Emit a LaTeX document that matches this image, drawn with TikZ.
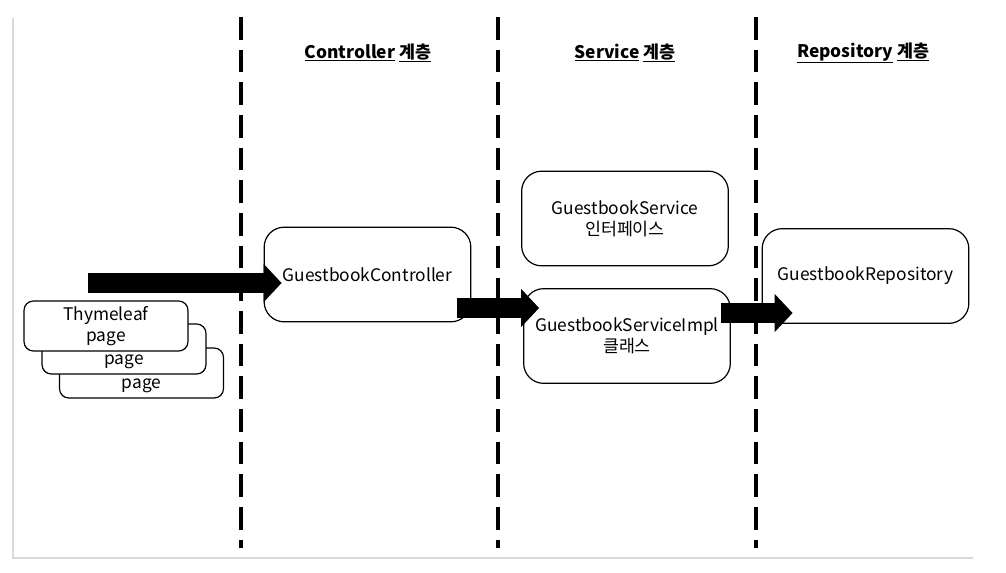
\documentclass[tikz,border=0pt]{standalone}
\usepackage{fontspec}
\setmainfont{Noto Sans CJK KR}
\usetikzlibrary{arrows.meta, calc}
\tikzset{
    box/.style={draw, rounded corners=15pt, line width=0.9pt, fill=white, minimum width=155pt, minimum height=71pt, align=center},
    pagebox/.style={draw, rounded corners=7pt, line width=0.9pt, fill=white, minimum width=123pt, minimum height=37.5pt, align=center},
    layer/.style={line width=2.6pt, dash pattern=on 17pt off 7.5pt},
    bigarrow/.style={line width=14.5pt, -{Triangle[length=13.5pt, width=28pt]}},
    title/.style={font=\fontsize{13}{15}\selectfont\bfseries}
}
\begin{document}
\begin{tikzpicture}[x=0.75pt, y=-0.75pt, font=\fontsize{13}{16}\selectfont]
        \useasboundingbox (0,0) rectangle (1006,572);
        \draw[gray!30, line width=1.1pt] (13,18) -- (13,558) -- (973,558);
        % layers
        \foreach \x in {241,498,756}
            \draw[layer] (\x,17) -- (\x,548);
        \node[title] (ctrltitle) at (368,53) {\underline{Controller} \underline{계층}};
        \node[title] (svctitle) at (625,53) {\underline{Service} \underline{계층}};
        \node[title] (repotitle) at (863,53) {\underline{Repository} \underline{계층}};
        % pages
        \node[pagebox] (page3) at (141.5,373) {};
        \node (page3txt) at (141.5,386) {page};
        \node[pagebox] (page2) at (124,349) {};
        \node (page2txt) at (124,362) {page};
        \node[pagebox] (page1) at (106,326) {Thymeleaf\\page};
        % boxes
        \node[box] (ctrl) at (367.5,274.5) {GuestbookController};
        \node[box] (iface) at (625,218.5) {GuestbookService\\인터페이스};
        \node[box] (impl) at (627,336) {GuestbookServiceImpl\\클래스};
        \node[box] (repo) at (865.5,276) {GuestbookRepository};
        % arrows
        \coordinate (a1) at (88,283);
        \coordinate (a2) at ($(ctrl.east)+(-14,33.5)$);
        \coordinate (a3) at ($(impl.east)+(-10,-23)$);
        \draw[bigarrow] (a1) -- ($(a1 -| ctrl.west)+(18,0)$);
        \draw[bigarrow] (a2) -- ($(a2 -| impl.west)+(16,0)$);
        \draw[bigarrow] (a3) -- ($(a3 -| repo.west)+(31,0)$);
    \end{tikzpicture}
\end{document}
